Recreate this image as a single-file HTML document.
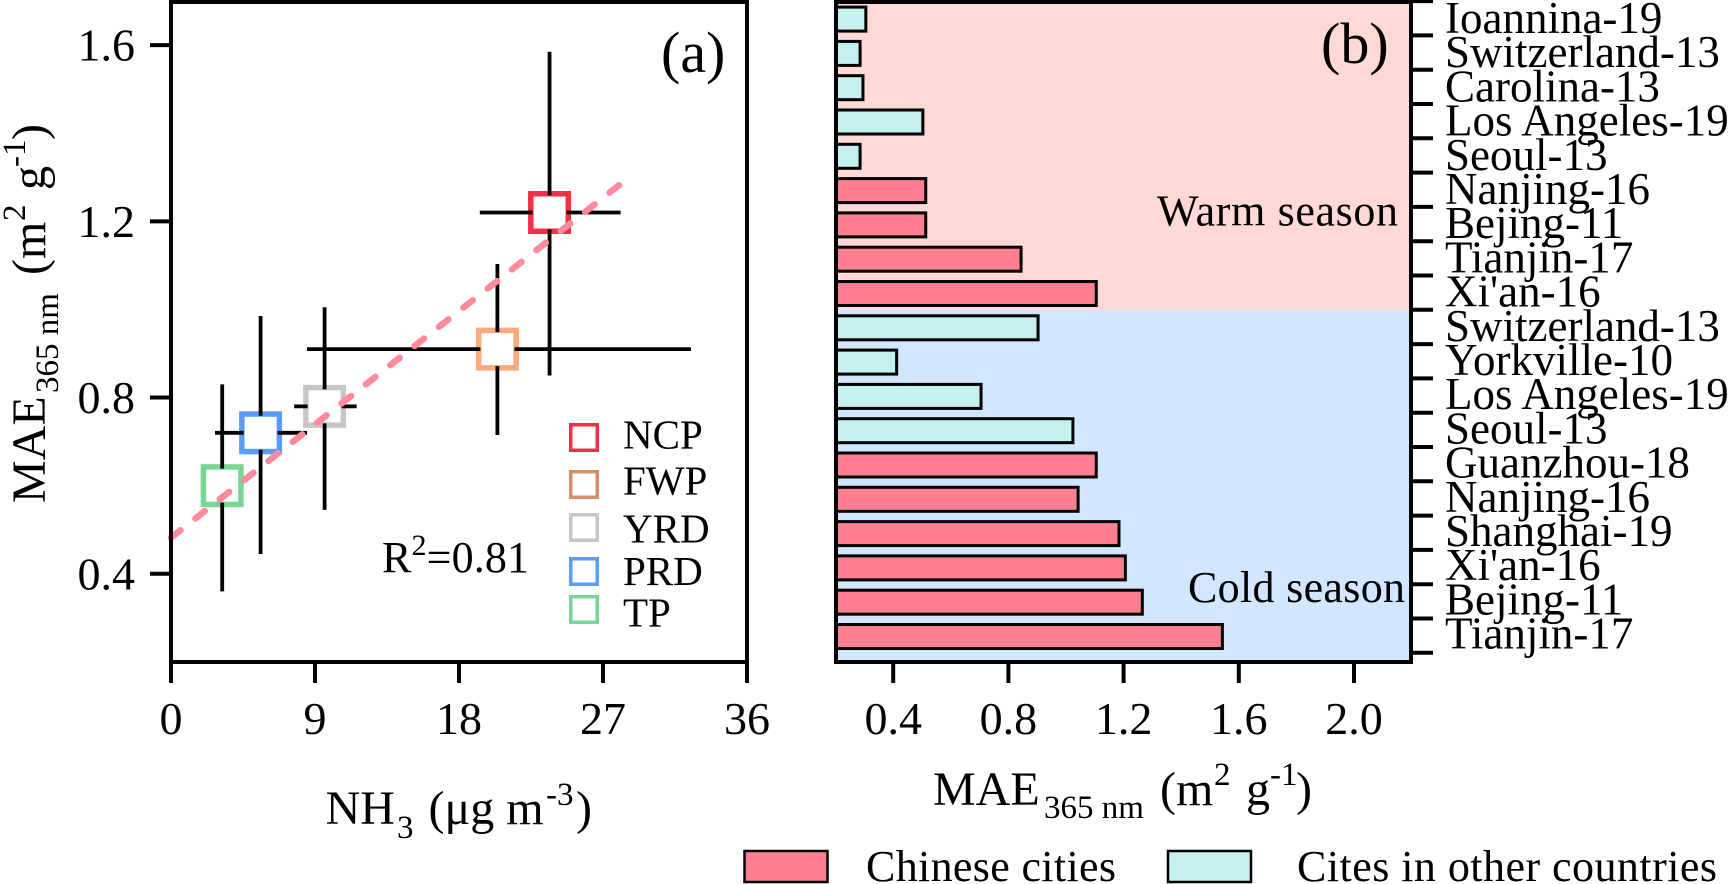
<!DOCTYPE html>
<html>
<head>
<meta charset="utf-8">
<title>MAE365 nm vs NH3 and city comparison</title>
<style>
html,body{margin:0;padding:0;background:#fff;width:1731px;height:884px;overflow:hidden}
svg{display:block}
text{font-family:"Liberation Serif",serif;fill:#000}
</style>
</head>
<body>
<svg id="chart" xmlns="http://www.w3.org/2000/svg" width="1731" height="884" viewBox="0 0 1731 884">
  <g id="panelA"></g>
  <g id="panelB"></g>

  <text x="661" y="72" font-size="58">(a)</text>
  <text x="1321" y="63" font-size="58">(b)</text>

  <text x="382" y="572" font-size="44" textLength="147">R<tspan font-size="30" dy="-17">2</tspan><tspan dy="17">=0.81</tspan></text>

  <g transform="translate(45,503) rotate(-90)">
    <text font-size="48"><tspan x="0">MAE</tspan><tspan x="110" y="13" font-size="33">365 nm</tspan><tspan x="228" y="0">(m</tspan><tspan x="282" y="-20" font-size="33">2</tspan><tspan x="313" y="0">g</tspan><tspan x="336" y="-20" font-size="33">-1</tspan><tspan x="363" y="0">)</tspan></text>
  </g>
  <text y="824" font-size="48"><tspan x="325.6">NH</tspan><tspan x="397" y="838" font-size="33">3</tspan><tspan x="428.5" y="824">(μg m</tspan><tspan x="546" y="805" font-size="33">-3</tspan><tspan x="576" y="824">)</tspan></text>

  <g transform="translate(933,805)">
    <text font-size="48"><tspan x="0">MAE</tspan><tspan x="111" y="13" font-size="33">365 nm</tspan><tspan x="227" y="0">(m</tspan><tspan x="281" y="-20" font-size="33">2</tspan><tspan x="313" y="0">g</tspan><tspan x="337" y="-20" font-size="33">-1</tspan><tspan x="363" y="0">)</tspan></text>
  </g>

  <rect x="744.5" y="851" width="83" height="31" fill="#ff7f90" stroke="#000" stroke-width="2.5"/>
  <text x="866" y="881" font-size="44" textLength="250">Chinese cities</text>
  <rect x="1168" y="851" width="83" height="31" fill="#c4f0ee" stroke="#000" stroke-width="2.5"/>
  <text x="1297" y="881" font-size="44" textLength="420">Cites in other countries</text>
</svg>
<script>
// Panel (a) data
const regions = ['NCP', 'FWP', 'YRD', 'PRD', 'TP'];
const nh3 = [23.66, 20.4, 9.6, 5.6, 3.2];
const mae = [1.22, 0.91, 0.78, 0.72, 0.6];
const nh3Low = [19.3, 8.5, 7.7, 2.75, 3.2];
const nh3High = [28.1, 32.5, 11.6, 8.5, 3.2];
const maeLow = [0.85, 0.715, 0.545, 0.445, 0.36];
const maeHigh = [1.585, 1.103, 1.005, 0.985, 0.83];
const regionColors = ['#f42f45', '#ffa97c', '#c6c6c6', '#5b9cf6', '#78d696'];
const legendColors = ['#f42f45', '#d58e68', '#c6c6c6', '#5b9cf6', '#78d696'];
const fitX = [0, 28];
const fitY = [0.482, 1.282];
const xTicksA = [0, 9, 18, 27, 36];
const yTicksA = [0.4, 0.8, 1.2, 1.6];
const yTickLabelsA = ['0.4', '0.8', '1.2', '1.6'];

// Panel (b) data, top to bottom
const cities = ['Ioannina-19', 'Switzerland-13', 'Carolina-13', 'Los Angeles-19', 'Seoul-13', 'Nanjing-16', 'Bejing-11', 'Tianjin-17', "Xi'an-16", 'Switzerland-13', 'Yorkville-10', 'Los Angeles-19', 'Seoul-13', 'Guanzhou-18', 'Nanjing-16', 'Shanghai-19', "Xi'an-16", 'Bejing-11', 'Tianjin-17'];
const cityMae = [0.305, 0.285, 0.295, 0.503, 0.285, 0.513, 0.513, 0.844, 1.105, 0.903, 0.412, 0.705, 1.024, 1.105, 1.042, 1.184, 1.206, 1.265, 1.543];
const cityGroup = ['other', 'other', 'other', 'other', 'other', 'cn', 'cn', 'cn', 'cn', 'other', 'other', 'other', 'other', 'cn', 'cn', 'cn', 'cn', 'cn', 'cn'];
const warmCount = 9;
const xTicksB = [0.4, 0.8, 1.2, 1.6, 2.0];
const xTickLabelsB = ['0.4', '0.8', '1.2', '1.6', '2.0'];

const NS = 'http://www.w3.org/2000/svg';
function mk(parent, tag, attrs, txt) {
  const el = document.createElementNS(NS, tag);
  for (const k in attrs) el.setAttribute(k, attrs[k]);
  if (txt !== undefined) el.textContent = txt;
  parent.appendChild(el);
  return el;
}
function kebab(s) { return s.toLowerCase().replace(/[^a-z0-9]+/g, '-'); }

const A = { l: 171, r: 747, t: 2, b: 662 };
const xA = v => A.l + v * 16;
const yA = v => 573.8 - (v - 0.4) * 440.6;

const B = { l: 836, r: 1411, t: 2, b: 662 };
const xB = v => 893.2 + (v - 0.4) * 288;
const bandTop = i => 1.1 + i * 34.3;

const pa = document.getElementById('panelA');
const pb = document.getElementById('panelB');

/* ---------- Panel A ---------- */
let el;
xTicksA.forEach(function (t) {
  el = mk(pa, 'line', { x1: xA(t), x2: xA(t), y1: A.b, y2: A.b + 21, stroke: '#000', 'stroke-width': 4 });
  
  
  el = mk(pa, 'text', { x: xA(t), y: 734, 'font-size': 46, 'text-anchor': 'middle' }, String(t));
  
  
});
yTicksA.forEach(function (t, i) {
  el = mk(pa, 'line', { x1: A.l - 21, x2: A.l, y1: yA(t), y2: yA(t), stroke: '#000', 'stroke-width': 4 });
  
  
  el = mk(pa, 'text', { x: 135, y: yA(t) + 15.5, 'font-size': 46, 'text-anchor': 'end' }, yTickLabelsA[i]);
  
  
});

const half = 21.5;
const gap = 17;
regions.forEach(function (name, i) {
  const cx = xA(nh3[i]);
  const cy = yA(mae[i]);
  const m = mk(pa, 'rect', {
    x: cx - half + 2.75, y: cy - half + 2.75, width: 2 * half - 5.5, height: 2 * half - 5.5,
    fill: '#fff', stroke: regionColors[i], 'stroke-width': 5.5
  });
  
  
  const eb = mk(pa, 'g', {});
  
  
  const segs = [
    [cx, yA(maeHigh[i]), cx, Math.max(cy - gap, yA(maeHigh[i]))],
    [cx, cy + gap, cx, yA(maeLow[i])],
    [xA(nh3Low[i]), cy, Math.max(cx - gap, xA(nh3Low[i])), cy],
    [cx + gap, cy, Math.max(cx + gap, xA(nh3High[i])), cy]
  ];
  segs.forEach(function (s) {
    mk(eb, 'line', { x1: s[0], y1: s[1], x2: s[2], y2: s[3], stroke: '#000', 'stroke-width': 3.8 });
  });
});

el = mk(pa, 'line', {
  x1: xA(fitX[0]), y1: yA(fitY[0]), x2: xA(fitX[1]), y2: yA(fitY[1]),
  stroke: '#ff8a9c', 'stroke-width': 6.5, 'stroke-linecap': 'round', 'stroke-dasharray': '12 19'
});



const legendBoxY = [423, 470, 513, 557, 595];
const legendBaseY = [448.3, 494.3, 542.7, 585, 626.7];
regions.forEach(function (name, i) {
  el = mk(pa, 'rect', { x: 570.75, y: legendBoxY[i] + 1.75, width: 26.5, height: 25.5, fill: '#fff', stroke: legendColors[i], 'stroke-width': 3.5 });
  
  
  el = mk(pa, 'text', { x: 623, y: legendBaseY[i], 'font-size': 41 }, name);
  
  
});

el = mk(pa, 'rect', { x: A.l, y: A.t, width: A.r - A.l, height: A.b - A.t, fill: 'none', stroke: '#000', 'stroke-width': 4 });



/* ---------- Panel B ---------- */
const split = bandTop(warmCount);
el = mk(pb, 'rect', { x: B.l, y: B.t, width: B.r - B.l, height: split - B.t, fill: '#ffd9d6' });


el = mk(pb, 'rect', { x: B.l, y: split, width: B.r - B.l, height: B.b - split, fill: '#d2e6ff' });



cities.forEach(function (c, i) {
  const top = bandTop(i);
  const bar = mk(pb, 'rect', {
    x: B.l, y: top + 18 - 12, width: xB(cityMae[i]) - B.l, height: 24,
    fill: cityGroup[i] === 'cn' ? '#ff7f90' : '#c4f0ee', stroke: '#000', 'stroke-width': 3
  });
  
  
  const lab = mk(pb, 'text', { x: 1445, y: 33 + i * 34.2, 'font-size': 45 }, c);
  
  
});
for (let i = 0; i <= cities.length; i++) {
  el = mk(pb, 'line', { x1: B.r, x2: B.r + 22, y1: bandTop(i), y2: bandTop(i), stroke: '#000', 'stroke-width': 4 });
  
  
}
xTicksB.forEach(function (t, i) {
  el = mk(pb, 'line', { x1: xB(t), x2: xB(t), y1: B.b, y2: B.b + 21, stroke: '#000', 'stroke-width': 4 });
  
  
  el = mk(pb, 'text', { x: xB(t), y: 734, 'font-size': 46, 'text-anchor': 'middle' }, xTickLabelsB[i]);
  
  
});
el = mk(pb, 'rect', { x: B.l, y: B.t, width: B.r - B.l, height: B.b - B.t, fill: 'none', stroke: '#000', 'stroke-width': 4 });



el = mk(pb, 'text', { x: 1157, y: 225.5, 'font-size': 44, textLength: 241 }, 'Warm season');


el = mk(pb, 'text', { x: 1188, y: 602, 'font-size': 44, textLength: 217 }, 'Cold season');


</script>
</body>
</html>
